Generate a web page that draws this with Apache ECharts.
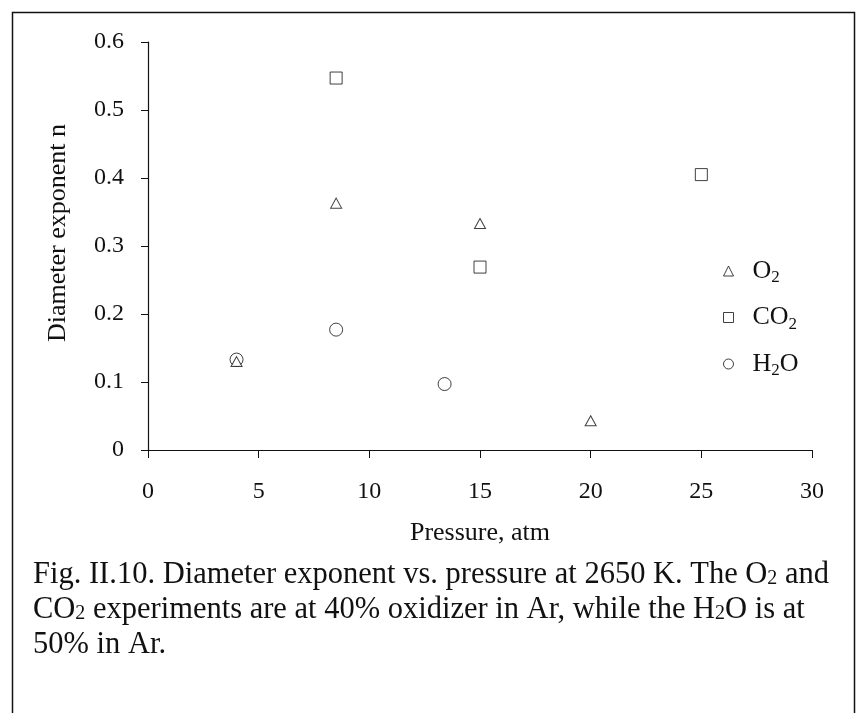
<!DOCTYPE html>
<html><head><meta charset="utf-8">
<script src="https://cdn.jsdelivr.net/npm/echarts@6/dist/echarts.min.js"></script>
<style>html,body{margin:0;padding:0;background:#fff}#c{width:857px;height:713px}</style>
</head><body><div id="c"></div>
<script>
var seriesNames = ['O2', 'CO2', 'H2O'];
var o2Pressure = [4, 8.5, 15, 20];
var o2Exponent = [0.130, 0.363, 0.333, 0.043];
var co2Pressure = [8.5, 15, 25];
var co2Exponent = [0.547, 0.269, 0.405];
var h2oPressure = [4, 8.5, 13.4];
var h2oExponent = [0.133, 0.177, 0.097];
var xTicks = [0, 5, 10, 15, 20, 25, 30];
var yTicks = [0, 0.1, 0.2, 0.3, 0.4, 0.5, 0.6];

function pairs(xs, ys) { return xs.map(function (x, i) { return [x, ys[i]]; }); }
var FONT = 'Liberation Serif';
var chart = echarts.init(document.getElementById('c'), null, {renderer: 'canvas'});
var legendLabel = {O2: 'O{s|2}', CO2: 'CO{s|2}', H2O: 'H{s|2}O'};
var hollow = {color: '#fff', borderColor: '#111', borderWidth: 1};
chart.setOption({
  backgroundColor: '#fff',
  animation: false,
  grid: {left: 148, top: 42, right: 45, bottom: 263},
  xAxis: {
    type: 'value', min: 0, max: 30, interval: 5,
    name: 'Pressure, atm', nameLocation: 'middle', nameGap: 70,
    nameTextStyle: {fontFamily: FONT, fontSize: 26, color: '#111'},
    axisLine: {lineStyle: {color: '#111', width: 1.2}},
    axisTick: {show: true, inside: false, length: 8, lineStyle: {color: '#111'}},
    axisLabel: {margin: 30, fontFamily: FONT, fontSize: 24, color: '#111',
      formatter: function (v) { return xTicks.indexOf(v) >= 0 ? String(v) : ''; }},
    splitLine: {show: false}
  },
  yAxis: {
    type: 'value', min: 0, max: 0.6, interval: 0.1,
    name: 'Diameter exponent n', nameLocation: 'middle', nameGap: 77, nameRotate: 90,
    nameTextStyle: {fontFamily: FONT, fontSize: 26, color: '#111', padding: [0, 0, 0, 26]},
    axisLine: {show: true, lineStyle: {color: '#111', width: 1.2}},
    axisTick: {show: true, inside: false, length: 7, lineStyle: {color: '#111'}},
    axisLabel: {margin: 24, fontFamily: FONT, fontSize: 24, color: '#111',
      formatter: function (v) {
        for (var i = 0; i < yTicks.length; i++) if (Math.abs(yTicks[i] - v) < 1e-9) return String(yTicks[i]);
        return '';
      }},
    splitLine: {show: false}
  },
  legend: {
    orient: 'vertical', left: 718, top: 252,
    itemWidth: 10, itemHeight: 10, itemGap: 17,
    data: seriesNames,
    formatter: function (n) { return legendLabel[n]; },
    itemStyle: {borderWidth: 1},
    textStyle: {fontFamily: FONT, fontSize: 26, color: '#111', lineHeight: 28, padding: [0, 0, 0, 14],
      rich: {s: {fontFamily: FONT, fontSize: 17, padding: [14, 0, 0, 0]}}}
  },
  series: [
    {name: 'O2', type: 'scatter', symbol: 'triangle', symbolSize: [11, 10], itemStyle: hollow, data: pairs(o2Pressure, o2Exponent), z: 3},
    {name: 'CO2', type: 'scatter', symbol: 'rect', symbolSize: 12, itemStyle: hollow, data: pairs(co2Pressure, co2Exponent), z: 2},
    {name: 'H2O', type: 'scatter', symbol: 'circle', symbolSize: 13, itemStyle: hollow, data: pairs(h2oPressure, h2oExponent), z: 2}
  ],
  graphic: [
    {type: 'rect', shape: {x: 12.5, y: 12.5, width: 842, height: 720}, style: {fill: 'none', stroke: '#111', lineWidth: 1.5}, silent: true},
    {type: 'text', left: 33, top: 557, style: {
      text: 'Fig. II.10. Diameter exponent vs. pressure at 2650 K. The O{s|2} and\nCO{s|2} experiments are at 40% oxidizer in Ar, while the H{s|2}O is at\n50% in Ar.',
      font: '30.5px "Liberation Serif"', fill: '#111', lineHeight: 35,
      rich: {s: {font: '20px "Liberation Serif"', padding: [9, 0, 0, 0], lineHeight: 35}}
    }}
  ]
});
</script></body></html>
